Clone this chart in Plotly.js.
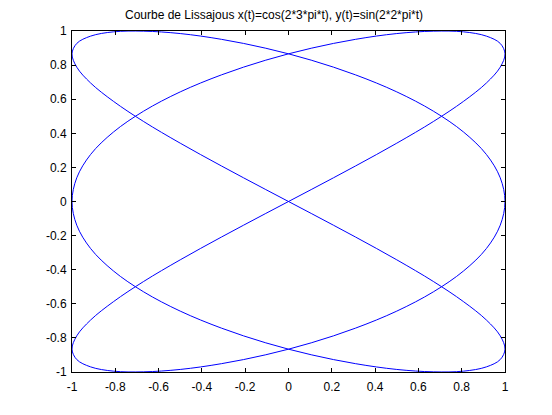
<!DOCTYPE html>
<html>
<head>
<meta charset="utf-8">
<script src="https://cdn.plot.ly/plotly-3.0.1.min.js"></script>
<style>html,body{margin:0;padding:0;background:#fff;}#chart{width:552px;height:415px;}</style>
</head>
<body>
<div id="chart"></div>
<script>
// Lissajous curve points (x = horizontal, y = vertical)
const xValues = [
  1, 0.978, 0.914, 0.809, 0.669, 0.5, 0.309, 0.105, -0.105, -0.309, -0.5, -0.669, -0.809, -0.914, -0.978,
  -1, -0.978, -0.914, -0.809, -0.669, -0.5, -0.309, -0.105, 0.105, 0.309, 0.5, 0.669, 0.809, 0.914, 0.978,
  1, 0.978, 0.914, 0.809, 0.669, 0.5, 0.309, 0.105, -0.105, -0.309, -0.5, -0.669, -0.809, -0.914, -0.978,
  -1, -0.978, -0.914, -0.809, -0.669, -0.5, -0.309, -0.105, 0.105, 0.309, 0.5, 0.669, 0.809, 0.914, 0.978,
  1, 0.978, 0.914, 0.809, 0.669, 0.5, 0.309, 0.105, -0.105, -0.309, -0.5, -0.669, -0.809, -0.914, -0.978,
  -1, -0.978, -0.914, -0.809, -0.669, -0.5, -0.309, -0.105, 0.105, 0.309, 0.5, 0.669, 0.809, 0.914, 0.978,
  1
];
const yValues = [
  0, 0.139, 0.276, 0.407, 0.530, 0.643, 0.743, 0.829, 0.899, 0.951, 0.985, 0.999, 0.995, 0.970, 0.927,
  0.866, 0.788, 0.695, 0.588, 0.469, 0.342, 0.208, 0.070, -0.070, -0.208, -0.342, -0.469, -0.588, -0.695, -0.788,
  -0.866, -0.927, -0.970, -0.995, -0.999, -0.985, -0.951, -0.899, -0.829, -0.743, -0.643, -0.530, -0.407, -0.276, -0.139,
  0, 0.139, 0.276, 0.407, 0.530, 0.643, 0.743, 0.829, 0.899, 0.951, 0.985, 0.999, 0.995, 0.970, 0.927,
  0.866, 0.788, 0.695, 0.588, 0.469, 0.342, 0.208, 0.070, -0.070, -0.208, -0.342, -0.469, -0.588, -0.695, -0.788,
  -0.866, -0.927, -0.970, -0.995, -0.999, -0.985, -0.951, -0.899, -0.829, -0.743, -0.643, -0.530, -0.407, -0.276, -0.139,
  0
];
const tickValues = [-1, -0.8, -0.6, -0.4, -0.2, 0, 0.2, 0.4, 0.6, 0.8, 1];
const tickLabels = ['-1', '-0.8', '-0.6', '-0.4', '-0.2', '0', '0.2', '0.4', '0.6', '0.8', '1'];
const titleText = 'Courbe de Lissajous x(t)=cos(2*3*pi*t), y(t)=sin(2*2*pi*t)';

const font = 'Liberation Sans, Arial, Helvetica, sans-serif';
const axisCommon = {
  range: [-1, 1],
  tickmode: 'array',
  tickvals: tickValues,
  ticktext: tickLabels,
  ticks: 'inside',
  ticklen: 4,
  tickwidth: 1,
  tickcolor: '#000',
  showline: true,
  linecolor: '#000',
  linewidth: 1,
  mirror: 'ticks',
  showgrid: false,
  zeroline: false,
  tickfont: {family: font, size: 12, color: '#000'},
  fixedrange: true
};

Plotly.newPlot('chart', [{
  x: xValues,
  y: yValues,
  type: 'scatter',
  mode: 'lines',
  line: {color: '#0000ff', width: 1, shape: 'spline', smoothing: 1},
  hoverinfo: 'none'
}], {
  width: 552,
  height: 415,
  margin: {l: 72, r: 47, t: 31, b: 43},
  paper_bgcolor: '#fff',
  plot_bgcolor: '#fff',
  showlegend: false,
  title: {
    text: titleText,
    font: {family: font, size: 12, color: '#000'},
    xref: 'container', x: 0.4965, xanchor: 'center',
    yref: 'container', y: 1 - 15/415, yanchor: 'middle'
  },
  xaxis: Object.assign({}, axisCommon, {ticklabelstandoff: 4}),
  yaxis: Object.assign({}, axisCommon, {ticklabelstandoff: 2})
}, {staticPlot: true});
</script>
</body>
</html>
